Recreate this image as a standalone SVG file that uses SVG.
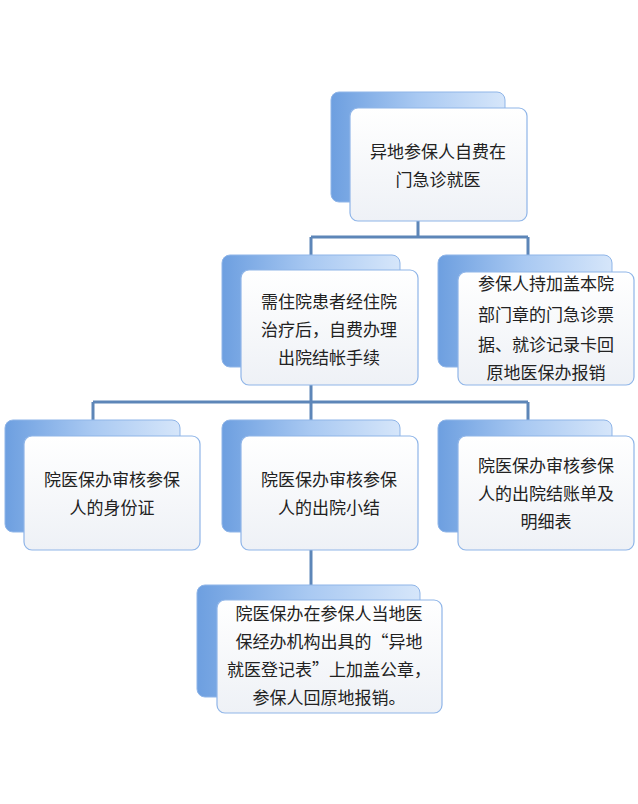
<svg xmlns="http://www.w3.org/2000/svg" width="638" height="804" viewBox="0 0 638 804">
<defs>
<linearGradient id="bg" x1="0" y1="0" x2="1" y2="0"><stop offset="0" stop-color="#6d9fe0"/><stop offset="0.5" stop-color="#a9c9f2"/><stop offset="1" stop-color="#d6e6fa"/></linearGradient>
<linearGradient id="fg" x1="0" y1="0" x2="0" y2="1"><stop offset="0" stop-color="#ffffff"/><stop offset="1" stop-color="#eef1f6"/></linearGradient>
<style>
.b{fill:url(#bg);stroke:#8fb5e8;stroke-width:1}
.f{fill:url(#fg);stroke:#8fb5e8;stroke-width:1.2}
.t{font-family:"Noto Sans CJK SC",sans-serif;font-size:17px;fill:#222;text-anchor:middle}
.c{stroke:#5d86b8;stroke-width:3;fill:none}
</style>
</defs>
<rect width="638" height="804" fill="#fff"/>
<g id="connectors">
<path class="c" d="M418 221V237M311 237H528M311 237V255M528 237V255"/>
<path class="c" d="M311 385V402M93 402H528M93 402V420M311 402V420M528 402V420"/>
<path class="c" d="M311 550V585"/>
</g>
<g id="n1"><rect class="b" x="331" y="92" width="174" height="110" rx="8"/><rect class="f" x="350" y="108" width="177" height="113" rx="8"/>
<text class="t" x="438" y="158">异地参保人自费在</text><text class="t" x="438" y="186">门急诊就医</text></g>
<g id="n2"><rect class="b" x="222" y="255" width="178" height="112" rx="8"/><rect class="f" x="241" y="270" width="177" height="115" rx="8"/>
<text class="t" x="329" y="308">需住院患者经住院</text><text class="t" x="329" y="336">治疗后，自费办理</text><text class="t" x="329" y="364">出院结帐手续</text></g>
<g id="n3"><rect class="b" x="438" y="255" width="174" height="112" rx="8"/><rect class="f" x="458" y="272" width="176" height="113" rx="8"/>
<text class="t" x="546" y="290">参保人持加盖本院</text><text class="t" x="546" y="321">部门章的门急诊票</text><text class="t" x="546" y="351">据、就诊记录卡回</text><text class="t" x="546" y="379">原地医保办报销</text></g>
<g id="n4"><rect class="b" x="5" y="420" width="175" height="112" rx="8"/><rect class="f" x="24" y="436" width="176" height="114" rx="8"/>
<text class="t" x="112" y="486">院医保办审核参保</text><text class="t" x="112" y="514">人的身份证</text></g>
<g id="n5"><rect class="b" x="222" y="420" width="178" height="112" rx="8"/><rect class="f" x="241" y="436" width="177" height="114" rx="8"/>
<text class="t" x="329" y="486">院医保办审核参保</text><text class="t" x="329" y="514">人的出院小结</text></g>
<g id="n6"><rect class="b" x="438" y="420" width="174" height="112" rx="8"/><rect class="f" x="458" y="436" width="176" height="114" rx="8"/>
<text class="t" x="546" y="472">院医保办审核参保</text><text class="t" x="546" y="500">人的出院结账单及</text><text class="t" x="546" y="528">明细表</text></g>
<g id="n7"><rect class="b" x="197" y="585" width="223" height="112" rx="8"/><rect class="f" x="217" y="600" width="225" height="113" rx="8"/>
<text class="t" x="329" y="620">院医保办在参保人当地医</text><text class="t" x="329" y="648">保经办机构出具的“异地</text><text class="t" x="329" y="676">就医登记表”上加盖公章，</text><text class="t" x="329" y="704">参保人回原地报销。</text></g>
</svg>
